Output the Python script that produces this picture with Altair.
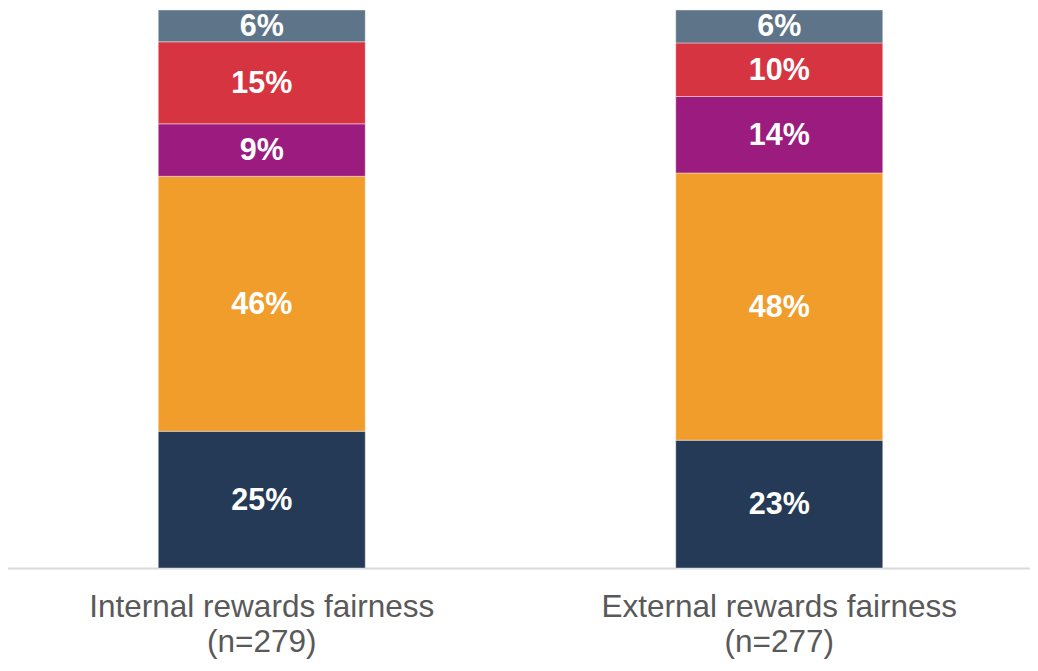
import altair as alt
import pandas as pd

# Data
categories = ["Internal rewards fairness|(n=279)", "External rewards fairness|(n=277)"]
segments = ["Seg 1", "Seg 2", "Seg 3", "Seg 4", "Seg 5"]  # bottom -> top
colors = ["#253A56", "#F09D2C", "#9B1C7E", "#D63441", "#5E7489"]
internal_values = [24.5, 45.7, 9.4, 14.7, 5.7]
external_values = [22.9, 47.9, 13.7, 9.6, 5.9]
internal_labels = ["25%", "46%", "9%", "15%", "6%"]
external_labels = ["23%", "48%", "14%", "10%", "6%"]

rows = []
for cat, vals, labs in [(categories[0], internal_values, internal_labels),
                        (categories[1], external_values, external_labels)]:
    for i, (s, v, l) in enumerate(zip(segments, vals, labs)):
        rows.append({"category": cat, "segment": s, "order": i, "value": v, "label": l})
df = pd.DataFrame(rows)

W = 1022
H = 558

x_enc = alt.X(
    "category:N",
    sort=categories,
    scale=alt.Scale(range=[-5, 1030], paddingInner=0.6, paddingOuter=0.3),
    axis=alt.Axis(
        title=None,
        labelAngle=0,
        labelExpr="split(datum.value, '|')",
        labelFont="Liberation Sans",
        labelFontSize=31.5,
        labelColor="#595959",
        labelLineHeight=35,
        labelPadding=23,
        labelLimit=2000,
        ticks=False,
        tickSize=0,
        domainColor="#D9D9D9",
        domainWidth=2,
        grid=False,
    ),
)

base = alt.Chart(df).transform_stack(
    stack="value",
    groupby=["category"],
    sort=[alt.SortField("order", order="ascending")],
    as_=["v0", "v1"],
).transform_calculate(mid="(datum.v0 + datum.v1) / 2")

bars = base.mark_bar(stroke="white", strokeWidth=0.4).encode(
    x=x_enc,
    y=alt.Y("v0:Q", scale=alt.Scale(domain=[0, 100], nice=False, zero=True), axis=None),
    y2="v1:Q",
    color=alt.Color("segment:N", scale=alt.Scale(domain=segments, range=colors), legend=None),
)

texts = base.mark_text(
    font="Liberation Sans",
    fontWeight="bold",
    fontSize=30.5,
    color="white",
    baseline="middle",
    dy=1,
).encode(
    x=alt.X("category:N", sort=categories),
    y=alt.Y("mid:Q"),
    text="label:N",
)

chart = (
    alt.layer(bars, texts)
    .properties(
        width=W,
        height=H,
        background="white",
        autosize=alt.AutoSizeParams(type="none"),
        padding={"left": 0, "top": 2, "right": 0, "bottom": 91},
    )
    .configure_view(strokeWidth=0, stroke="transparent")
)

chart.save("out.html", embed_options={"renderer": "svg", "actions": False})
